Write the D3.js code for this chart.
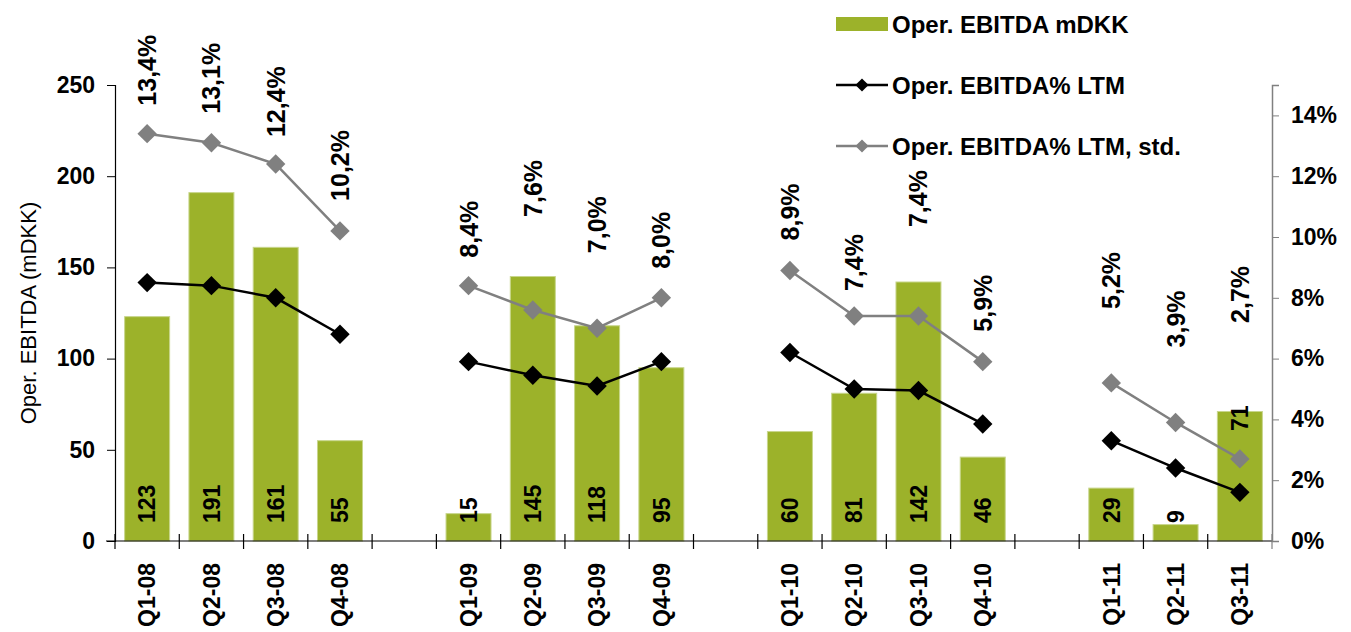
<!DOCTYPE html>
<html>
<head>
<meta charset="utf-8">
<script src="https://cdn.jsdelivr.net/npm/d3@7"></script>
<style>
    body { margin: 0; background: #fff; }
    text { font-family: "Liberation Sans", Arial, sans-serif; }
</style>
</head>
<body>
<div id="chart"></div>
<script>
// data
const categories = ["Q1-08", "Q2-08", "Q3-08", "Q4-08",
    "Q1-09", "Q2-09", "Q3-09", "Q4-09",
    "Q1-10", "Q2-10", "Q3-10", "Q4-10",
    "Q1-11", "Q2-11", "Q3-11"];
const ebitda = [123, 191, 161, 55, 15, 145, 118, 95, 60, 81, 142, 46, 29, 9, 71];
const ebitdaPctLtm = [8.5, 8.4, 8.0, 6.8, 5.9, 5.45, 5.1, 5.9, 6.2, 5.0, 4.95, 3.85, 3.3, 2.4, 1.6];
const ebitdaPctStd = [13.4, 13.1, 12.4, 10.2, 8.4, 7.6, 7.0, 8.0, 8.9, 7.4, 7.4, 5.9, 5.2, 3.9, 2.7];
const leftTicks = [0, 50, 100, 150, 200, 250];
const rightTicks = [0, 2, 4, 6, 8, 10, 12, 14];
const seriesNames = ["Oper. EBITDA mDKK", "Oper. EBITDA% LTM", "Oper. EBITDA% LTM, std."];

// label layout (manual lifts above the std. markers, px)
const pctLabelLift = [28, 29, 27, 30, 28, 93, 75, 29, 30, 25, 89, 30, 74, 75, 136];
const barLabelAtTop = ["Q3-11"];

const margin = {top: 85, right: 79, bottom: 91, left: 115};
const width = 1351 - margin.left - margin.right;
const height = 632 - margin.top - margin.bottom;

const green = "#9cb22a";
const grey = "#808080";

// slots: one gap between years
let slots = [];
categories.forEach(function (c, i) {
    if (i > 0 && c.slice(-2) !== categories[i - 1].slice(-2)) {
        slots.push("gap" + c.slice(-2));
    }
    slots.push(c);
});

const rows = categories.map(function (c, i) {
    return {cat: c, year: c.slice(-2), value: ebitda[i], ltm: ebitdaPctLtm[i], std: ebitdaPctStd[i], lift: pctLabelLift[i]};
});

const x = d3.scaleBand().domain(slots).range([0, width]);
const y = d3.scaleLinear().domain([0, 250]).range([height, 0]);
const y2 = d3.scaleLinear().domain([0, 15]).range([height, 0]);
const cx = function (d) { return x(d.cat) + x.bandwidth() / 2; };
const barW = x.bandwidth() * 0.7;

const svg = d3.select("#chart").append("svg")
    .attr("width", 1351)
    .attr("height", 632);

const g = svg.append("g")
    .attr("transform", "translate(" + margin.left + "," + margin.top + ")");

// bars
g.selectAll(".bar")
    .data(rows)
    .enter().append("rect")
    .attr("class", "bar")
    .attr("x", function (d) { return cx(d) - barW / 2; })
    .attr("y", function (d) { return y(d.value); })
    .attr("width", barW)
    .attr("height", function (d) { return height - y(d.value); })
    .attr("fill", green)
    .attr("stroke", "#c8d68c")
    .attr("stroke-width", 1);

// left axis
const leftAxis = g.append("g")
    .call(d3.axisLeft(y).tickValues(leftTicks).tickSize(8).tickPadding(12));
leftAxis.select(".domain").attr("stroke", "#000").attr("stroke-width", 1.2);
leftAxis.selectAll("text")
    .style("font-size", "23px")
    .style("font-weight", "bold")
    .attr("fill", "#000");

// right axis
const rightAxis = g.append("g")
    .attr("transform", "translate(" + width + ",0)")
    .call(d3.axisRight(y2).tickValues(rightTicks).tickSize(7).tickPadding(12)
        .tickFormat(function (d) { return d + "%"; }));
rightAxis.select(".domain").attr("stroke", grey).attr("stroke-width", 1.5);
rightAxis.selectAll(".tick line").attr("stroke", grey);
rightAxis.selectAll("text")
    .style("font-size", "23px")
    .style("font-weight", "bold")
    .attr("fill", "#000");

// category axis with ticks on slot boundaries
const xAxis = g.append("g").attr("transform", "translate(0," + height + ")");
xAxis.append("line")
    .attr("x1", -9).attr("x2", width)
    .attr("stroke", "#000").attr("stroke-width", 1.2);
xAxis.selectAll(".xtick")
    .data(slots.concat(["end"]))
    .enter().append("line")
    .attr("class", "xtick")
    .attr("x1", function (d, i) { return i * x.step(); })
    .attr("x2", function (d, i) { return i * x.step(); })
    .attr("y1", -7).attr("y2", 8)
    .attr("stroke", function (d, i) { return i === slots.length ? grey : "#000"; })
    .attr("stroke-width", 1.2);
xAxis.selectAll(".xlabel")
    .data(rows)
    .enter().append("text")
    .attr("class", "xlabel")
    .attr("transform", function (d) { return "translate(" + cx(d) + ",22) rotate(-90)"; })
    .attr("dy", "0.36em")
    .attr("text-anchor", "end")
    .style("font-size", "23px")
    .style("font-weight", "bold")
    .text(function (d) { return d.cat; });

// axis title
svg.append("text")
    .attr("transform", "translate(28," + (margin.top + height / 2) + ") rotate(-90)")
    .attr("dy", "0.36em")
    .attr("text-anchor", "middle")
    .style("font-size", "22px")
    .text("Oper. EBITDA (mDKK)");

// bar value labels
g.selectAll(".barlabel")
    .data(rows)
    .enter().append("text")
    .attr("class", "barlabel")
    .attr("transform", function (d) {
        if (barLabelAtTop.indexOf(d.cat) >= 0) {
            return "translate(" + cx(d) + "," + (y(d.value) - 6) + ") rotate(-90)";
        }
        return "translate(" + cx(d) + "," + (height - 18) + ") rotate(-90)";
    })
    .attr("dy", "0.36em")
    .attr("text-anchor", function (d) { return barLabelAtTop.indexOf(d.cat) >= 0 ? "end" : "start"; })
    .style("font-size", "23px")
    .style("font-weight", "bold")
    .text(function (d) { return d.value; });

// lines, broken per year
const years = d3.groups(rows, function (d) { return d.year; });
const lineLtm = d3.line().x(cx).y(function (d) { return y2(d.ltm); });
const lineStd = d3.line().x(cx).y(function (d) { return y2(d.std); });
const diamond = d3.symbol().type(d3.symbolDiamond2).size(240);

g.selectAll(".std-line")
    .data(years)
    .enter().append("path")
    .attr("class", "std-line")
    .attr("d", function (d) { return lineStd(d[1]); })
    .attr("fill", "none")
    .attr("stroke", grey)
    .attr("stroke-width", 2.5);

g.selectAll(".ltm-line")
    .data(years)
    .enter().append("path")
    .attr("class", "ltm-line")
    .attr("d", function (d) { return lineLtm(d[1]); })
    .attr("fill", "none")
    .attr("stroke", "#000")
    .attr("stroke-width", 2.5);

g.selectAll(".std-pt")
    .data(rows)
    .enter().append("path")
    .attr("class", "std-pt")
    .attr("transform", function (d) { return "translate(" + cx(d) + "," + y2(d.std) + ")"; })
    .attr("d", diamond)
    .attr("fill", grey);

g.selectAll(".ltm-pt")
    .data(rows)
    .enter().append("path")
    .attr("class", "ltm-pt")
    .attr("transform", function (d) { return "translate(" + cx(d) + "," + y2(d.ltm) + ")"; })
    .attr("d", diamond)
    .attr("fill", "#000");

// std. percent labels
g.selectAll(".pctlabel")
    .data(rows)
    .enter().append("text")
    .attr("class", "pctlabel")
    .attr("transform", function (d) { return "translate(" + cx(d) + "," + (y2(d.std) - d.lift) + ") rotate(-90)"; })
    .attr("dy", "0.36em")
    .attr("text-anchor", "start")
    .style("font-size", "25px")
    .style("font-weight", "bold")
    .text(function (d) { return d3.format(".1f")(d.std).replace(".", ",") + "%"; });

// legend
const legend = svg.append("g").attr("transform", "translate(836,0)");
const legendRows = [
    {name: seriesNames[0], type: "bar", y: 24},
    {name: seriesNames[1], type: "line", color: "#000", y: 85},
    {name: seriesNames[2], type: "line", color: grey, y: 146}
];
legendRows.forEach(function (r) {
    if (r.type === "bar") {
        legend.append("rect")
            .attr("x", 0).attr("y", r.y - 7)
            .attr("width", 52).attr("height", 14)
            .attr("fill", green);
    } else {
        legend.append("line")
            .attr("x1", 0).attr("x2", 52)
            .attr("y1", r.y).attr("y2", r.y)
            .attr("stroke", r.color).attr("stroke-width", 2.5);
        legend.append("path")
            .attr("transform", "translate(26," + r.y + ")")
            .attr("d", d3.symbol().type(d3.symbolDiamond2).size(110))
            .attr("fill", r.color);
    }
    legend.append("text")
        .attr("x", 56).attr("y", r.y)
        .attr("dy", "0.36em")
        .style("font-size", "24px")
        .style("font-weight", "bold")
        .text(r.name);
});
</script>
</body>
</html>
